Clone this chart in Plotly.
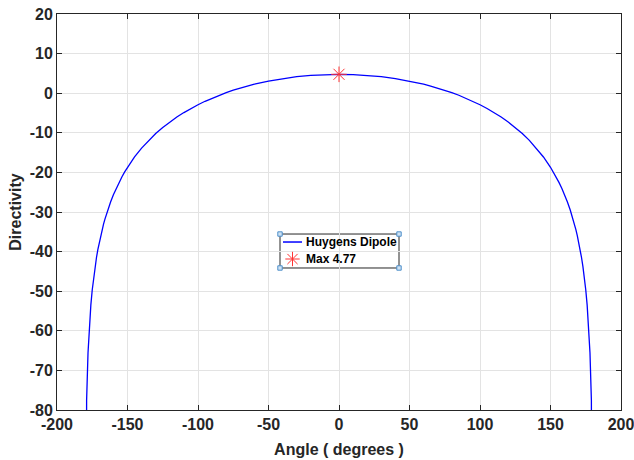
import plotly.graph_objects as go

# Huygens dipole directivity (dB) sampled over the angle sweep
angle_deg = [
    -180, -179, -178, -177, -176, -175, -174, -173, -172, -171, -170,
    -169, -168, -167, -166, -165, -164, -162, -160, -158, -156, -154, -152,
    -150, -145, -140, -135, -130, -125, -120, -115, -110, -105, -100,
    -95, -90, -85, -80, -75, -70, -65, -60, -50, -40, -30, -20, -10,
    0,
    10, 20, 30, 40, 50, 60, 65, 70, 75, 80, 85, 90, 95,
    100, 105, 110, 115, 120, 125, 130, 135, 140, 145, 150,
    152, 154, 156, 158, 160, 162, 164, 165, 166, 167, 168, 169,
    170, 171, 172, 173, 174, 175, 176, 177, 178, 179, 180,
]
directivity_db = [
    -300.0, -77.60, -65.56, -58.51, -53.52, -49.64, -46.48, -43.80, -41.49, -39.44, -37.62,
    -35.97, -34.46, -33.08, -31.79, -30.60, -29.49, -27.46, -25.64, -24.01, -22.52, -21.15, -19.88,
    -18.71, -16.10, -13.87, -11.92, -10.19, -8.65, -7.27, -6.02, -4.89, -3.85, -2.91,
    -2.04, -1.25, -0.52, 0.14, 0.75, 1.30, 1.81, 2.27, 3.06, 3.69, 4.17, 4.50, 4.70,
    4.77,
    4.70, 4.50, 4.17, 3.69, 3.06, 2.27, 1.81, 1.30, 0.75, 0.14, -0.52, -1.25, -2.04,
    -2.91, -3.85, -4.89, -6.02, -7.27, -8.65, -10.19, -11.92, -13.87, -16.10, -18.71,
    -19.88, -21.15, -22.52, -24.01, -25.64, -27.46, -29.49, -30.60, -31.79, -33.08, -34.46, -35.97,
    -37.62, -39.44, -41.49, -43.80, -46.48, -49.64, -53.52, -58.51, -65.56, -77.60, -300.0,
]
peak_angle = [0]
peak_value = [4.77]

x_ticks = [-200, -150, -100, -50, 0, 50, 100, 150, 200]
y_ticks = [-80, -70, -60, -50, -40, -30, -20, -10, 0, 10, 20]

series_name = "Huygens Dipole"
peak_name = "Max 4.77"

axis_color = "#262626"
grid_color = "#e3e3e3"
line_blue = "#0000ff"
star_red = "#ff3333"
font_family = "Liberation Sans, Arial, sans-serif"
label_font = dict(family=font_family, size=16, color=axis_color, weight="bold")


def tick_text(values):
    # plain hyphen for negatives
    return [str(v) for v in values]


fig = go.Figure()
fig.add_trace(go.Scatter(
    x=angle_deg, y=directivity_db, mode="lines", name=series_name,
    line=dict(color=line_blue, width=1.3), showlegend=False,
))
fig.add_trace(go.Scatter(
    x=peak_angle, y=peak_value, mode="markers", name=peak_name,
    marker=dict(symbol="asterisk-open", size=13, color=star_red,
                line=dict(color=star_red, width=1)),
    showlegend=False,
))

axis_common = dict(
    showline=True, linecolor=axis_color, linewidth=1, mirror="ticks",
    ticks="inside", ticklen=5, tickcolor=axis_color,
    showgrid=True, gridcolor=grid_color, gridwidth=1,
    zeroline=False, automargin=False, ticklabeloverflow="allow",
    tickfont=label_font,
)

fig.update_xaxes(
    range=[-200, 200], tickvals=x_ticks, ticktext=tick_text(x_ticks),
    title=dict(text="Angle ( degrees )", standoff=11, font=label_font),
    **axis_common,
)
fig.update_yaxes(
    range=[-80, 20], tickvals=y_ticks, ticktext=tick_text(y_ticks),
    title=dict(text="Directivity", standoff=4, font=label_font),
    **axis_common,
)

# Boxed legend placed inside the axes (paper fractions of the plot area)
box_x0, box_x1 = 0.3954, 0.6064
box_y0, box_y1 = 0.3586, 0.4444
row1_y, row2_y = 0.4242, 0.3813
glyph_x0, glyph_x1 = 0.4007, 0.4344
text_x = 0.4379

fig.update_layout(
    xaxis2=dict(overlaying="x", range=[0, 1], visible=False, fixedrange=True),
    yaxis2=dict(overlaying="y", range=[0, 1], visible=False, fixedrange=True),
)
fig.add_trace(go.Scatter(
    x=[(glyph_x0 + glyph_x1) / 2], y=[row2_y], xaxis="x2", yaxis="y2",
    mode="markers", showlegend=False, hoverinfo="skip",
    marker=dict(symbol="asterisk-open", size=12, color=star_red,
                line=dict(color=star_red, width=1)),
))

shapes = [
    dict(type="rect", xref="paper", yref="paper",
         x0=box_x0, x1=box_x1, y0=box_y0, y1=box_y1,
         line=dict(color=axis_color, width=1), fillcolor="white", layer="below"),
    dict(type="line", xref="paper", yref="paper",
         x0=glyph_x0, x1=glyph_x1, y0=row1_y, y1=row1_y,
         line=dict(color=line_blue, width=1.5)),
]
# selection handles at the legend corners
hx, hy = 2.2 / 564, 2.2 / 396
for cx in (box_x0, box_x1):
    for cy in (box_y0, box_y1):
        shapes.append(dict(type="rect", xref="paper", yref="paper",
                           x0=cx - hx, x1=cx + hx, y0=cy - hy, y1=cy + hy,
                           line=dict(color="#4f8fc9", width=1), fillcolor="#cfe3f5"))

legend_font = dict(family=font_family, size=12, color="#000000", weight="bold")
annotations = [
    dict(xref="paper", yref="paper", x=text_x, y=row1_y, text=series_name,
         showarrow=False, xanchor="left", yanchor="middle", font=legend_font),
    dict(xref="paper", yref="paper", x=text_x, y=row2_y, text=peak_name,
         showarrow=False, xanchor="left", yanchor="middle", font=legend_font),
]

fig.update_layout(
    width=634, height=460,
    margin=dict(l=57, r=13, t=14, b=50),
    paper_bgcolor="white", plot_bgcolor="rgba(0,0,0,0)",
    showlegend=False,
    shapes=shapes, annotations=annotations,
)

fig.write_html("out.html")
